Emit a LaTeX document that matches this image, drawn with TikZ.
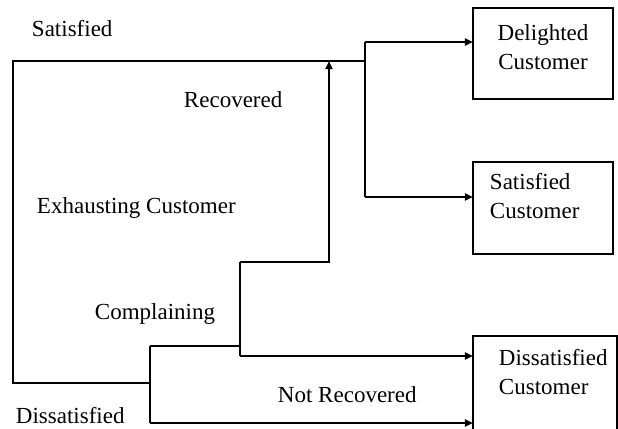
\documentclass[tikz,border=0pt]{standalone}
\usepackage{fontspec}
\setmainfont{Liberation Serif}
\usetikzlibrary{positioning, arrows.meta}

\begin{document}
\begin{tikzpicture}[x=0.5pt, y=-0.5pt, line width=1pt,
  every node/.style={font=\fontsize{11.5}{14.5}\selectfont},
  lbl/.style={anchor=base west, inner sep=0pt},
  boxtext/.style={inner sep=0pt},
  custbox/.style={draw, minimum width=70pt, inner sep=0pt, outer sep=0pt, anchor=north west},
  >={Triangle[length=4pt, width=3.5pt]}]
\useasboundingbox (0,0) rectangle (618,429);

% Customer boxes
\node[custbox, minimum height=45.5pt] (delighted) at (473,8) {};
\node[custbox, minimum height=46pt] (satcust) at (473,162) {};
\node[custbox, minimum width=72pt, minimum height=60pt] (dissatcust) at (473,336) {};

% Box texts
\node[boxtext, anchor=north, align=center] (deltext) at (543,24) {Delighted\\Customer};
\node[boxtext, anchor=north west, align=left] (sattext) at (489,172) {Satisfied\\Customer};
\node[boxtext, anchor=north west, align=left] (dissattext) at (498,348) {Dissatisfied\\Customer};

% Path labels
\node[lbl] (satlbl) at (31,36) {Satisfied};
\node[lbl] (reclbl) at (183,107) {Recovered};
\node[lbl] (exhlbl) at (36,213) {Exhausting Customer};
\node[lbl] (complbl) at (94,319) {Complaining};
\node[lbl] (notreclbl) at (277,402) {Not Recovered};
\node[lbl] (dissatlbl) at (15,423) {Dissatisfied};

% Junctions
\coordinate (topleft) at (13,61);
\coordinate (split) at (365,61);
\coordinate (botleft) at (13,383);
\coordinate (dfork) at (150,383);
\coordinate (dtop) at (150,346);
\coordinate (dbot) at (150,423);
\coordinate (cmid) at (240,346);
\coordinate (ctop) at (240,262);
\coordinate (cbot) at (240,356);
\coordinate (recend) at (329,61);
\coordinate (sup) at (365,42);
\coordinate (sdown) at (365,197);

% Outer loop
\draw (split) -- (topleft) -- (botleft) -- (dfork);
\draw (dtop) -- (dbot);
\draw[->] (dbot) -- (dbot -| dissatcust.west);

% Complaining
\draw (dtop) -- (cmid);
\draw (ctop) -- (cbot);
\draw[->] (cbot) -- (cbot -| dissatcust.west);
\draw[->] (ctop) -| (recend);

% Split to the top boxes
\draw (sup) -- (sdown);
\draw[->] (sup) -- (sup -| delighted.west);
\draw[->] (sdown) -- (sdown -| satcust.west);
\end{tikzpicture}
\end{document}
